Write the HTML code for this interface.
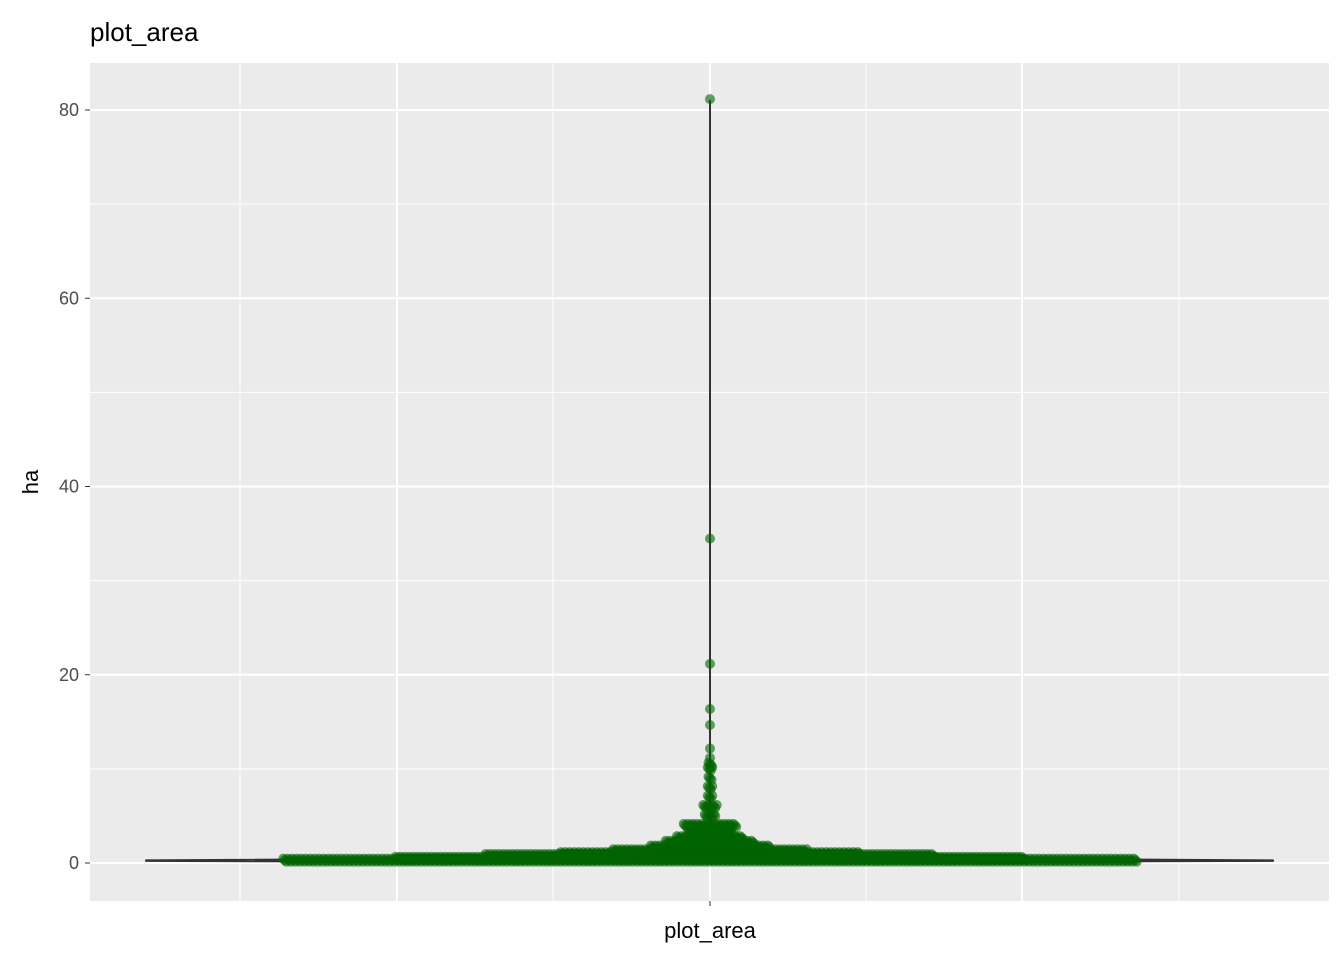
<!DOCTYPE html>
<html><head><meta charset="utf-8"><style>
body{margin:0;background:#fff;font-family:"Liberation Sans",sans-serif}
</style></head><body>
<svg width="1344" height="960" xmlns="http://www.w3.org/2000/svg">
<text x="90" y="41" font-size="26" fill="#000">plot_area</text>
<rect x="90" y="63" width="1239" height="838" fill="#ebebeb"/>
<g id="grid"></g>
<g id="violin"></g>
<g id="points"></g>
<g id="yaxis"></g>
<text x="710" y="938" font-size="22" text-anchor="middle" fill="#000">plot_area</text>
<text transform="translate(38,482) rotate(-90)" font-size="22" text-anchor="middle" fill="#000">ha</text>
</svg>
<script>
const yTicks=[0,20,40,60,80];
const yMinor=[10,30,50,70];
const levelValues=[0.3,0.5,0.8,1.0,1.3,1.7,2.2,2.7,3.3,4.0,5,6,7,8,9,10,10.5,11,12,14.5,16.2,21,34.3,81];
const levelCounts=[570,420,300,200,130,80,60,45,30,36,8,10,4,4,3,4,3,1,1,1,1,1,1,1];
const NS="http://www.w3.org/2000/svg";
const y=v=>863-v*(863-110)/80;
const cx=710;
function mk(t,a,p){const e=document.createElementNS(NS,t);for(const k in a)e.setAttribute(k,a[k]);p.appendChild(e);return e;}
const grid=document.getElementById('grid');
yMinor.forEach(v=>{const l=mk('line',{x1:90,x2:1329,y1:y(v),y2:y(v),stroke:'#fff','stroke-width':1},grid);

});
yTicks.forEach(v=>{const l=mk('line',{x1:90,x2:1329,y1:y(v),y2:y(v),stroke:'#fff','stroke-width':2},grid);

});
[240,553,866,1179].forEach(x=>{const l=mk('line',{x1:x,x2:x,y1:63,y2:901,stroke:'#fff','stroke-width':1},grid);

});
[397,710,1022].forEach(x=>{const l=mk('line',{x1:x,x2:x,y1:63,y2:901,stroke:'#fff','stroke-width':2},grid);

});
const ya=document.getElementById('yaxis');
yTicks.forEach(v=>{const t=mk('line',{x1:85,x2:90,y1:y(v),y2:y(v),stroke:'#333','stroke-width':1},ya);


const tx=mk('text',{x:79,y:y(v)+6,'font-size':18,'text-anchor':'end',fill:'#4d4d4d'},ya);tx.textContent=v;

});
const xt=mk('line',{x1:710,x2:710,y1:901,y2:906,stroke:'#333'},ya);


const vg=document.getElementById('violin');
const vp=mk('path',{d:`M710 ${y(81)} L710 ${y(0.6)} L1273 ${y(0.28)} L1273 ${y(0.22)} L710 ${y(0.05)} L146 ${y(0.22)} L146 ${y(0.28)} L710 ${y(0.6)} Z`,fill:'#ffffff',stroke:'#333','stroke-width':2,'stroke-linejoin':'round'},vg);


const pg=document.getElementById('points');
levelValues.forEach((v,i)=>{const n=levelCounts[i];for(let j=0;j<n;j++){const off=(j-(n-1)/2)*1.5;
const c=mk('circle',{cx:cx+off,cy:y(v)+((j%3)-1)*1.5,r:5,fill:'#006400','fill-opacity':0.6},pg);

}});
</script>
</body></html>
